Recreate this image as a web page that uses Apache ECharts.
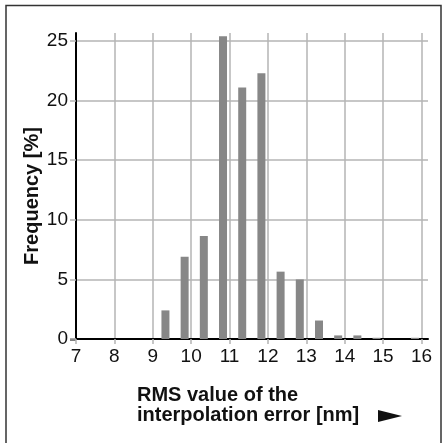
<!DOCTYPE html>
<html>
<head>
<meta charset="utf-8">
<script src="https://cdn.jsdelivr.net/npm/echarts@6/dist/echarts.min.js"></script>
<style>html,body{margin:0;padding:0;background:#fff}#c{width:443px;height:443px}</style>
</head>
<body>
<div id="c"></div>
<script>
const binCenters = [9.33, 9.83, 10.33, 10.83, 11.33, 11.83, 12.33, 12.83, 13.33, 13.83, 14.33, 14.83, 15.33, 15.83];
const frequency = [2.4, 6.9, 8.65, 25.4, 21.1, 22.3, 5.65, 5.0, 1.55, 0.3, 0.3, 0.1, 0, 0.1];
const xTicks = [7, 8, 9, 10, 11, 12, 13, 14, 15, 16];
const yTicks = [0, 5, 10, 15, 20, 25];
const yTitle = 'Frequency [%]';
const xTitleLines = ['RMS value of the', 'interpolation error [nm]'];

const chart = echarts.init(document.getElementById('c'), null, {renderer: 'canvas'});
const font = 'Liberation Sans, Arial, Helvetica, sans-serif';
const gridCol = '#b4b4b4';
chart.setOption({
  animation: false,
  grid: {left: 76, right: 15, top: 33, bottom: 104, containLabel: false},
  xAxis: {
    type: 'value', min: 7, max: 16.17,
    axisLine: {show: true, onZero: false, lineStyle: {color: '#000', width: 2}},
    axisTick: {show: true, length: 5, customValues: xTicks, lineStyle: {color: gridCol, width: 1.5}},
    axisLabel: {customValues: xTicks, color: '#111', fontFamily: font, fontSize: 19, margin: 8},
    splitLine: {show: true, lineStyle: {color: gridCol, width: 1.5}}
  },
  yAxis: {
    type: 'value', min: 0, max: 25.67,
    axisLine: {show: true, lineStyle: {color: '#000', width: 2}},
    axisTick: {show: true, length: 6, customValues: yTicks, lineStyle: {color: gridCol, width: 1.5}},
    axisLabel: {customValues: yTicks, color: '#111', fontFamily: font, fontSize: 19, margin: 8},
    splitLine: {show: true, lineStyle: {color: gridCol, width: 1.5}}
  },
  series: [{
    type: 'bar',
    barWidth: 8,
    itemStyle: {color: '#878787'},
    data: binCenters.map((x, i) => [x, frequency[i]])
  }],
  graphic: [
    {type: 'polyline', shape: {points: [[6, 443], [6, 5.5], [441, 5.5], [441, 443]]}, style: {stroke: '#333', lineWidth: 1.5, fill: null}},
    {type: 'line', shape: {x1: 70, y1: 339.5, x2: 76, y2: 339.5}, style: {stroke: '#000', lineWidth: 2}},
    {type: 'text', x: 32, y: 196, rotation: Math.PI / 2, style: {text: yTitle, font: 'bold 20px ' + font, fill: '#111', align: 'center', verticalAlign: 'middle'}},
    {type: 'text', x: 137, y: 395, style: {text: xTitleLines[0], font: 'bold 20px ' + font, fill: '#111', align: 'left', verticalAlign: 'middle'}},
    {type: 'text', x: 137, y: 415, style: {text: xTitleLines[1], font: 'bold 20px ' + font, fill: '#111', align: 'left', verticalAlign: 'middle'}},
    {type: 'polygon', shape: {points: [[378, 410], [402, 416], [378, 422]]}, style: {fill: '#111'}}
  ]
});
</script>
</body>
</html>
